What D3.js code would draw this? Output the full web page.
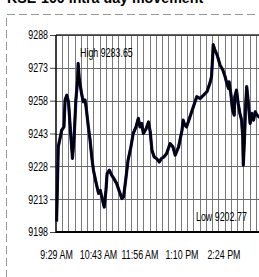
<!DOCTYPE html>
<html><head><meta charset="utf-8">
<script src="https://cdn.jsdelivr.net/npm/d3@7"></script>
<style>
html,body{margin:0;padding:0;background:#fff;overflow:hidden;}
svg{display:block;}
text{font-family:"Liberation Sans",Arial,sans-serif;}
</style></head>
<body><svg id="c" width="259" height="277"></svg>
<script>
// ---- data ----
const title = "KSE-100 intra day movement";
const startHour = 9, startMinute = 29;
// minutes after 9:29 AM
const minuteOffsets = [1,4,10,14,16,19,22,25,28,29,32,35,38,39,41,45,48,51,53,57,60,63,66,71,75,78,82,85,88,90,94,98,102,107,111,116,119,122,127,132,136,141,145,148,151,154,159,163,166,169,173,177,182,186,190,195,201,206,210,216,222,224,227,230,233,236,242,248,254,260,266,271,274,276,277,280,284,289,294,298,301,304,305,308,311,314,315,318,321,324,327,329,330,332,334,336,339,342,345,348,351,354,358,362];
const indexValues = [9202.8,9236.9,9244.5,9246.0,9258.3,9260.5,9257.5,9246.0,9235.4,9231.6,9241.5,9258.3,9267.4,9275.0,9268.0,9261.3,9257.5,9258.3,9255.2,9246.0,9240.0,9232.3,9226.2,9220.1,9215.6,9217.0,9212.5,9209.4,9217.0,9224.7,9226.2,9224.0,9222.4,9220.1,9217.0,9213.3,9214.0,9220.1,9230.8,9236.9,9243.0,9246.0,9249.9,9246.0,9247.6,9243.0,9245.3,9248.3,9243.8,9235.4,9232.3,9231.6,9230.0,9231.6,9232.3,9233.9,9238.4,9236.9,9233.1,9236.9,9244.5,9249.1,9246.8,9246.0,9248.3,9250.6,9255.2,9259.8,9259.0,9260.5,9262.1,9265.9,9268.9,9278.0,9283.6,9281.1,9278.8,9274.3,9272.0,9268.9,9265.9,9263.6,9266.6,9261.3,9253.7,9251.4,9259.8,9262.8,9256.7,9252.2,9249.1,9241.5,9228.5,9240.0,9255.2,9264.4,9256.7,9247.6,9252.2,9249.1,9252.9,9251.4,9250.6,9251.0];
const yTicks = [9198,9213,9228,9243,9258,9273,9288];
const xTickOffsets = [0,74,147,221,295];
const xTickLabels = ["9:29 AM","10:43 AM","11:56 AM","1:10 PM","2:24 PM"];
const highLabel = "High 9283.65";
const lowLabel = "Low 9202.77";
const gridStepMinutes = 11;
const domainEndMinutes = 370;

// ---- drawing ----
const svg = d3.select("#c");
const toDate = m => new Date(2000,0,1,startHour,startMinute+m);
const pLeft = 56, pTop = 35, pBottom = 232;
const pxPerMin = 42/74;
const sx = 0.74; // condensed text
const x = d3.scaleTime().domain([toDate(0), toDate(domainEndMinutes)]).range([pLeft, pLeft + domainEndMinutes*pxPerMin]);
const y = d3.scaleLinear().domain([9198,9288]).range([pBottom, pTop]);

// title (cut at top)
svg.append("text").attr("transform","translate(7,3) scale(0.95,1)").attr("font-size",15).attr("font-weight","bold")
  .attr("fill","#000").text(title);

// dashed frame
svg.append("line").attr("x1",7).attr("x2",259).attr("y1",14.5).attr("y2",14.5)
  .attr("stroke","#999").attr("stroke-width",1).attr("stroke-dasharray","8,4");
svg.append("line").attr("x1",6.5).attr("x2",6.5).attr("y1",18).attr("y2",277)
  .attr("stroke","#999").attr("stroke-width",1).attr("stroke-dasharray","8,4");

// vertical grid
const vgrid = d3.range(gridStepMinutes, domainEndMinutes, gridStepMinutes).map(toDate);
svg.append("g").selectAll("line").data(vgrid).join("line")
  .attr("x1",d=>Math.round(x(d))+0.5).attr("x2",d=>Math.round(x(d))+0.5)
  .attr("y1",pTop).attr("y2",pBottom).attr("stroke","#7a7a7a").attr("stroke-width",1);
// horizontal grid
svg.append("g").selectAll("line").data(yTicks).join("line")
  .attr("x1",pLeft).attr("x2",259).attr("y1",d=>Math.round(y(d))+0.5).attr("y2",d=>Math.round(y(d))+0.5)
  .attr("stroke","#6a6a6a").attr("stroke-width",1);

// y axis
const yAxis = svg.append("g").attr("transform",`translate(${pLeft},0)`)
  .call(d3.axisLeft(y).tickValues(yTicks).tickSize(6).tickPadding(2).tickFormat(d3.format("d")));
yAxis.select(".domain").remove();
yAxis.selectAll("line").attr("stroke","#444");
yAxis.selectAll("text").attr("font-size",12).attr("fill","#000")
  .style("font-family","'Liberation Sans',Arial,sans-serif")
  .attr("x",-8/sx).attr("transform",`scale(${sx},1)`);

// x axis labels
const xAxis = svg.append("g").attr("transform",`translate(0,${pBottom})`)
  .call(d3.axisBottom(x).tickValues(xTickOffsets.map(toDate)).tickSize(0).tickPadding(18)
    .tickFormat((d,i)=>xTickLabels[i]));
xAxis.select(".domain").remove();
xAxis.selectAll("text").attr("font-size",12).attr("fill","#000")
  .style("font-family","'Liberation Sans',Arial,sans-serif")
  .attr("transform",`scale(${sx},1)`);

// plot border
svg.append("line").attr("x1",pLeft).attr("x2",259).attr("y1",pTop).attr("y2",pTop).attr("stroke","#333").attr("stroke-width",1.5);
svg.append("line").attr("x1",pLeft).attr("x2",259).attr("y1",pBottom).attr("y2",pBottom).attr("stroke","#000").attr("stroke-width",2);
svg.append("line").attr("x1",pLeft).attr("x2",pLeft).attr("y1",pTop).attr("y2",pBottom+1).attr("stroke","#000").attr("stroke-width",1.5);

// data line
const pts = minuteOffsets.map((m,i)=>({t:toDate(m), v:indexValues[i]}));
const line = d3.line().x(d=>x(d.t)).y(d=>y(d.v));
svg.append("path").datum(pts).attr("d",line).attr("fill","none").attr("stroke","#1a1a90").attr("stroke-width",3.2).attr("stroke-linejoin","round");
svg.append("path").datum(pts).attr("d",line).attr("fill","none").attr("stroke","#000").attr("stroke-width",2.4).attr("stroke-linejoin","round");

// annotations
svg.append("text").attr("transform",`translate(80,57) scale(${sx},1)`).attr("font-size",12).attr("fill","#000").text(highLabel);
svg.append("text").attr("transform",`translate(196,221) scale(${sx},1)`).attr("font-size",12).attr("fill","#000").text(lowLabel);
</script></body></html>
